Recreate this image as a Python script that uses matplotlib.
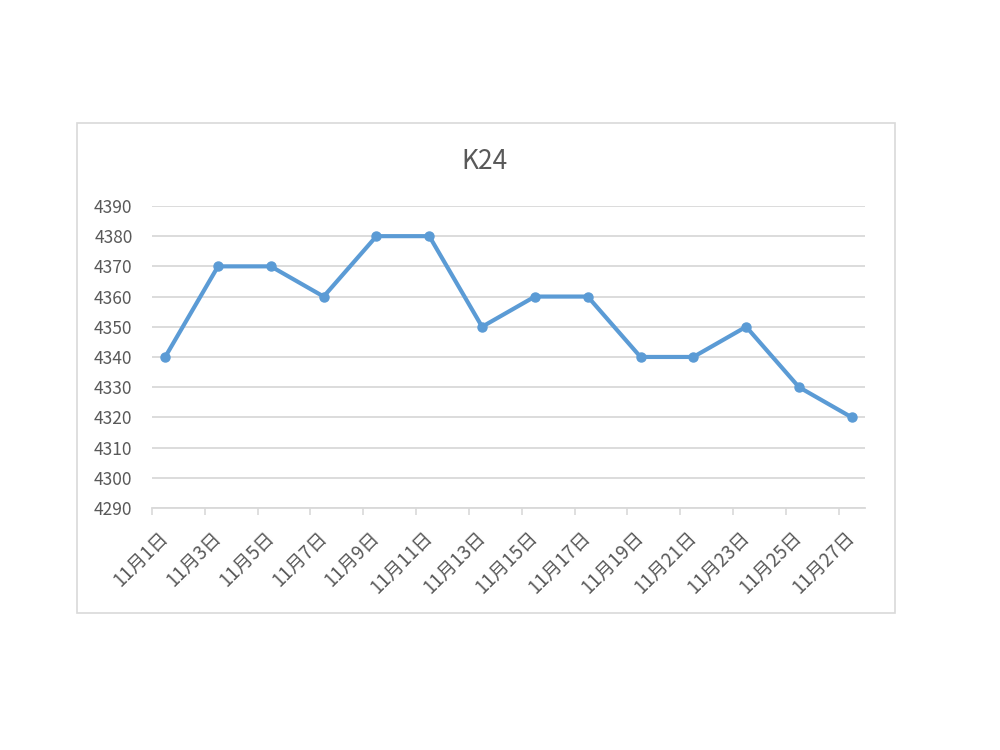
import matplotlib
matplotlib.use("Agg")
import matplotlib.pyplot as plt
from matplotlib.patches import Rectangle
from matplotlib.transforms import ScaledTranslation

plt.rcParams['font.family'] = ['Noto Sans CJK SC', 'DejaVu Sans']

# data: price every 2 days in November
days = [1, 3, 5, 7, 9, 11, 13, 15, 17, 19, 21, 23, 25, 27]
values = [4340, 4370, 4370, 4360, 4380, 4380, 4350,
          4360, 4360, 4340, 4340, 4350, 4330, 4320]
tick_labels = ['11月%d日' % d for d in days]
y_ticks = list(range(4290, 4391, 10))

fig = plt.figure(figsize=(10, 7.5), dpi=100)

# chart area border (Excel style)
fig.patches.append(Rectangle((0.077, 0.1827), 0.818, 0.6533, transform=fig.transFigure,
                             fill=False, edgecolor='#D9D9D9', linewidth=1.2))

ax = fig.add_axes([0.152, 0.3227, 0.713, 0.4027])

ax.plot(days, values, color='#5B9BD5', linewidth=3.0, marker='o',
        markersize=6.5, markerfacecolor='#5B9BD5', markeredgecolor='#5B9BD5', zorder=3)

ax.set_xlim(0.5, 27.5)
ax.set_ylim(4290, 4390)
ax.set_yticks(y_ticks)
ax.yaxis.grid(True, color='#D9D9D9', linewidth=1.3)
ax.set_axisbelow(True)

# date axis: ticks at start of each day slot, labels drawn a bit to the right
ax.set_xticks([d - 0.5 for d in days])
ax.set_xticklabels([])
lbl_tr = ax.get_xaxis_transform() + ScaledTranslation(0.06, -0.19, fig.dpi_scale_trans)
for d, txt in zip(days, tick_labels):
    ax.text(d - 0.5, 0, txt, transform=lbl_tr, rotation=45, ha='right', va='top',
            rotation_mode='anchor', fontsize=13.5, color='#595959', clip_on=False)

for s in ['top', 'right', 'left']:
    ax.spines[s].set_visible(False)
ax.spines['bottom'].set_color('#D9D9D9')
ax.spines['bottom'].set_linewidth(1.3)

ax.tick_params(axis='x', length=5, width=1.2, color='#D9D9D9')
ax.tick_params(axis='y', length=0, pad=14, labelsize=12.5, labelcolor='#595959')

fig.text(0.485, 0.785, 'K24', ha='center', va='center', fontsize=19, color='#595959')

fig.savefig('out.png', dpi=100)
